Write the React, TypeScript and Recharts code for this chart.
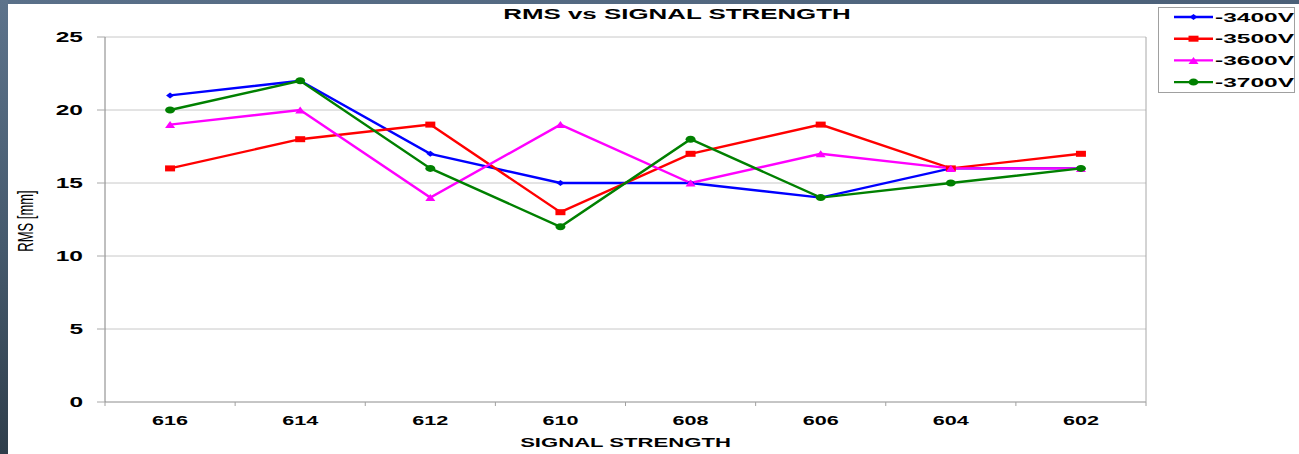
import React from 'react';
import { LineChart, Line, XAxis, YAxis, CartesianGrid, Legend, ReferenceLine } from 'recharts';

// signal strength categories and RMS [mm] per bias voltage
const signal = ['616', '614', '612', '610', '608', '606', '604', '602'];
const rms3400 = [21, 22, 17, 15, 15, 14, 16, 16];
const rms3500 = [16, 18, 19, 13, 17, 19, 16, 17];
const rms3600 = [19, 20, 14, 19, 15, 17, 16, 16];
const rms3700 = [20, 22, 16, 12, 18, 14, 15, 16];
const yTicks = [0, 5, 10, 15, 20, 25];

const data = signal.map((s, i) => ({
  signal: s,
  v3400: rms3400[i],
  v3500: rms3500[i],
  v3600: rms3600[i],
  v3700: rms3700[i],
}));

const series = [
  { key: 'v3400', name: '-3400V', color: '#0000ff', kind: 'diamond' },
  { key: 'v3500', name: '-3500V', color: '#ff0000', kind: 'square' },
  { key: 'v3600', name: '-3600V', color: '#ff00ff', kind: 'triangle' },
  { key: 'v3700', name: '-3700V', color: '#008000', kind: 'circle' },
];

const FONT = '"Liberation Sans", Arial, sans-serif';

// the original picture is stretched sideways, so text is scaled in x
const Stretch = ({ x, y, sx, size, weight = 'bold', anchor = 'middle', rotate = 0, children }: any) => (
  <text
    transform={`translate(${x},${y}) scale(${sx},1)${rotate ? ` rotate(${rotate})` : ''}`}
    textAnchor={anchor}
    fontFamily={FONT}
    fontSize={size}
    fontWeight={weight}
    fill="#000"
  >
    {children}
  </text>
);

const marker = (kind: string, cx: number, cy: number, color: string) => {
  switch (kind) {
    case 'diamond':
      return <polygon points={`${cx - 4},${cy} ${cx},${cy - 3} ${cx + 4},${cy} ${cx},${cy + 3}`} fill={color} />;
    case 'square':
      return <rect x={cx - 5} y={cy - 3} width={10} height={6} fill={color} />;
    case 'triangle':
      return <polygon points={`${cx - 5},${cy + 3.5} ${cx},${cy - 3.5} ${cx + 5},${cy + 3.5}`} fill={color} />;
    default:
      return <ellipse cx={cx} cy={cy} rx={5} ry={3.5} fill={color} />;
  }
};

const YTick = ({ x, y, payload }: any) => (
  <Stretch x={x} y={y + 5} sx={1.75} size={14} anchor="end">{payload.value}</Stretch>
);

const XTick = ({ x, y, payload, index, visibleTicksCount }: any) => {
  const half = payload.offset ?? 0;
  return (
    <g>
      <line x1={x - half} x2={x - half} y1={y - 4} y2={y} stroke="#a0a0a0" />
      {index === visibleTicksCount - 1 && <line x1={x + half} x2={x + half} y1={y - 4} y2={y} stroke="#a0a0a0" />}
      <Stretch x={x} y={y + 19} sx={1.73} size={12.5}>{payload.value}</Stretch>
    </g>
  );
};

const LegendBox = ({ payload }: any) => (
  <svg width={137} height={86} style={{ display: 'block' }}>
    <rect x={0.5} y={0.5} width={136} height={85} fill="#fff" stroke="#a0a0a0" />
    {(payload || []).map((e: any, i: number) => {
      const s = series.find((d) => d.name === e.value) || series[0];
      const y = 10 + i * 21.7;
      return (
        <g key={s.key}>
          <line x1={16} x2={55} y1={y} y2={y} stroke={s.color} strokeWidth={2.4} />
          {marker(s.kind, 35.5, y, s.color)}
          <Stretch x={57} y={y + 4.5} sx={1.96} size={12.5} anchor="start">{e.value}</Stretch>
        </g>
      );
    })}
  </svg>
);

export default function App() {
  return (
    <div style={{ position: 'absolute', left: 0, top: 0, width: 1299, height: 454, background: '#fff', overflow: 'hidden' }}>
      <LineChart width={1299} height={454} data={data} margin={{ top: 37, right: 153, bottom: 0, left: 0 }}>
        <CartesianGrid vertical={false} stroke="#c8c8c8" />
        <XAxis
          dataKey="signal"
          scale="band"
          height={52}
          tickSize={4}
          tickMargin={0}
          tickLine={false}
          axisLine={{ stroke: '#a8a8a8' }}
          tick={<XTick />}
          label={{
            content: ({ viewBox }: any) => (
              <Stretch x={viewBox.x + viewBox.width / 2} y={viewBox.y + 45} sx={1.7} size={13}>SIGNAL STRENGTH</Stretch>
            ),
          }}
        />
        <YAxis
          width={105}
          domain={[0, 25]}
          ticks={yTicks}
          tickSize={8}
          tickMargin={14}
          tickLine={{ stroke: '#a8a8a8' }}
          axisLine={{ stroke: '#808080' }}
          tick={<YTick />}
          label={{
            content: ({ viewBox }: any) => (
              <Stretch x={viewBox.x + 33} y={viewBox.y + 184} sx={1.75} size={13} weight="normal" rotate={-90}>RMS [mm]</Stretch>
            ),
          }}
        />
        <ReferenceLine x={signal[signal.length - 1]} position="end" stroke="#a8a8a8" />
        <Legend
          layout="vertical"
          align="center"
          verticalAlign="middle"
          wrapperStyle={{ left: 1158, top: 7, width: 137, height: 86 }}
          content={<LegendBox />}
        />
        {series.map((s) => (
          <Line
            key={s.key}
            dataKey={s.key}
            name={s.name}
            stroke={s.color}
            strokeWidth={2.4}
            isAnimationActive={false}
            activeDot={false}
            dot={(p: any) => <g key={`${s.key}-${p.index}`}>{marker(s.kind, p.cx, p.cy, s.color)}</g>}
          />
        ))}
      </LineChart>

      <svg width={1299} height={30} style={{ position: 'absolute', left: 0, top: 0 }}>
        <Stretch x={677} y={19.3} sx={1.85} size={14}>RMS vs SIGNAL STRENGTH</Stretch>
      </svg>
      <div style={{ position: 'absolute', left: 0, top: 0, width: 1299, height: 4, background: 'linear-gradient(90deg,#5a7089,#4b6078)' }} />
      <div style={{ position: 'absolute', left: 0, top: 0, width: 8, height: 454, background: 'linear-gradient(180deg,#5d738b,#45596c 55%,#2f3e4b)' }} />
    </div>
  );
}
